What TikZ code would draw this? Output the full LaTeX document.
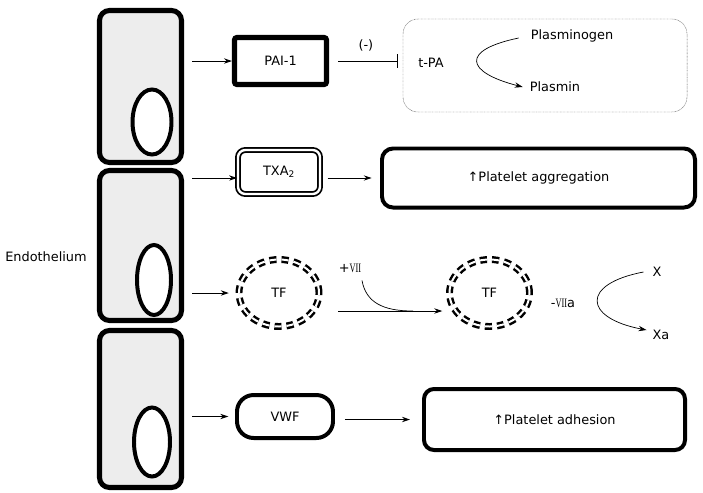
\documentclass[tikz,border=0pt]{standalone}
\usepackage{fontspec}
\setmainfont{DejaVu Sans}
\newfontfamily\numfont{Liberation Serif}
\usepackage{graphicx}
\usetikzlibrary{calc,arrows.meta,shapes.geometric,positioning}

\begin{document}
\begin{tikzpicture}[x=0.03cm, y=-0.03cm, >={Stealth[length=2.4mm,width=1.6mm]}, every node/.style={font=\fontsize{11}{13}\selectfont}]
    % Define styles for cells, boxes and arrows
    \tikzstyle{cell} = [draw, line width=4.3pt, fill=gray!14, rounded corners=0.3cm, minimum width=2.46cm, inner sep=0pt]
    \tikzstyle{nucleus} = [draw, ellipse, line width=3.4pt, fill=white, inner sep=0pt]
    \tikzstyle{thickbox} = [draw, line width=3.4pt, rounded corners=0.33cm, inner sep=0pt]
    \tikzstyle{tfring} = [draw, ellipse, double, line width=2.1pt, double distance=1.7pt, dash pattern=on 6pt off 4.3pt, minimum width=2.4cm, minimum height=2.01cm, inner sep=0pt]
    \tikzstyle{arrow} = [->, line width=0.8pt]
    \tikzstyle{feed} = [arrow, shorten <=0.25cm]

    \useasboundingbox (0,0) rectangle (703,492);

    % Endothelium cells
    \node [cell, minimum height=4.56cm] (cell1) at (140.5,86.5) {};
    \node [cell, minimum height=4.5cm] (cell2) at (140.5,245.5) {};
    \node [cell, minimum height=4.71cm] (cell3) at (140.5,409) {};
    \node [nucleus, minimum width=1.17cm, minimum height=1.95cm] (nuc1) at (152,122) {};
    \node [nucleus, minimum width=1.02cm, minimum height=2.1cm] (nuc2) at (154,280) {};
    \node [nucleus, minimum width=1.08cm, minimum height=2.07cm] (nuc3) at (152,442) {};
    \node (endo) at (46,257) {Endothelium};

    % Fibrinolysis row
    \node [draw, line width=4.3pt, rounded corners=2pt, minimum width=2.76cm, minimum height=1.41cm, inner sep=0pt] (pai) at (280.5,61) {PAI-1};
    \node [draw=gray!70!black, dash pattern=on 0.6pt off 0.6pt, rounded corners=0.45cm, minimum width=8.52cm, minimum height=2.79cm] (fibro) at (545,65.5) {};
    \node (tpa) at (431,63) {t-PA};
    \node (plgn) at (572,36) {Plasminogen};
    \node (plmn) at (555,87) {Plasmin};

    % Aggregation row
    \node [draw, double, line width=1.5pt, double distance=2pt, rounded corners=0.22cm, minimum width=2.46cm, minimum height=1.32cm, inner sep=0pt] (txa) at (279,172) {TXA\textsubscript{2}};
    \node [thickbox, minimum width=9.39cm, minimum height=1.77cm] (agg) at (538.5,178) {↑Platelet aggregation};

    % Tissue factor row
    \node [tfring] (tf1) at (279,293) {TF};
    \node [tfring] (tf2) at (489.5,293) {TF};
    \node (vii) at (350,268) {+\scalebox{0.65}[1]{\numfont VII}};
    \node (viia) at (563,303) {-\scalebox{0.65}[1]{\numfont VII}a};
    \node (fx) at (657,272) {X};
    \node (fxa) at (661,335) {Xa};
    \coordinate (join) at (413,311);

    % Adhesion row
    \node [draw, line width=3.4pt, rounded corners=0.5cm, minimum width=2.88cm, minimum height=1.29cm, inner sep=0pt] (vwf) at (285,416.5) {VWF};
    \node [thickbox, rounded corners=0.3cm, minimum width=7.83cm, minimum height=1.83cm] (adh) at (554.5,419.5) {↑Platelet adhesion};

    % Draw edges
    \draw [feed] (cell1.east |- pai.west) -- (pai.west);
    \draw [line width=0.8pt, -{Bar[width=4.2mm]}, shorten <=0.28cm, shorten >=0.15cm] (pai.east) -- node[above=0.15cm] {(-)} (fibro.west |- pai.east);
    \draw [arrow, line width=0.6pt] ($(plgn.west)+(-8,2)$) .. controls +(-58,12) and +(-58,-15) .. ($(plmn.west)+(-3,0)$);

    \draw [feed] (cell2.east |- agg.west) -- (txa.west |- agg.west);
    \draw [arrow, shorten <=0.2cm, shorten >=0.25cm] (txa.east |- agg.west) -- (agg.west);

    \draw [feed, shorten >=0.27cm] (cell2.east |- tf1.west) -- (tf1.west);
    \draw [arrow] ($(tf1.east)+(18,18)$) -- ($(tf2.west)+(-6,18)$);
    \draw [line width=0.6pt] ($(vii.south)+(12,4)$) .. controls +(4,22) and +(-30,0) .. (join);
    \draw [arrow, line width=0.6pt] ($(fx.west)+(-5,0)$) .. controls +(-63,12) and +(-63,-12) .. ($(fxa.west)+(-2,-5)$);

    \draw [feed, shorten >=0.2cm] (cell3.east |- vwf.west) -- (vwf.west);
    \draw [arrow, shorten <=0.3cm, shorten >=0.36cm] (vwf.east |- adh.west) -- (adh.west);
\end{tikzpicture}
\end{document}
